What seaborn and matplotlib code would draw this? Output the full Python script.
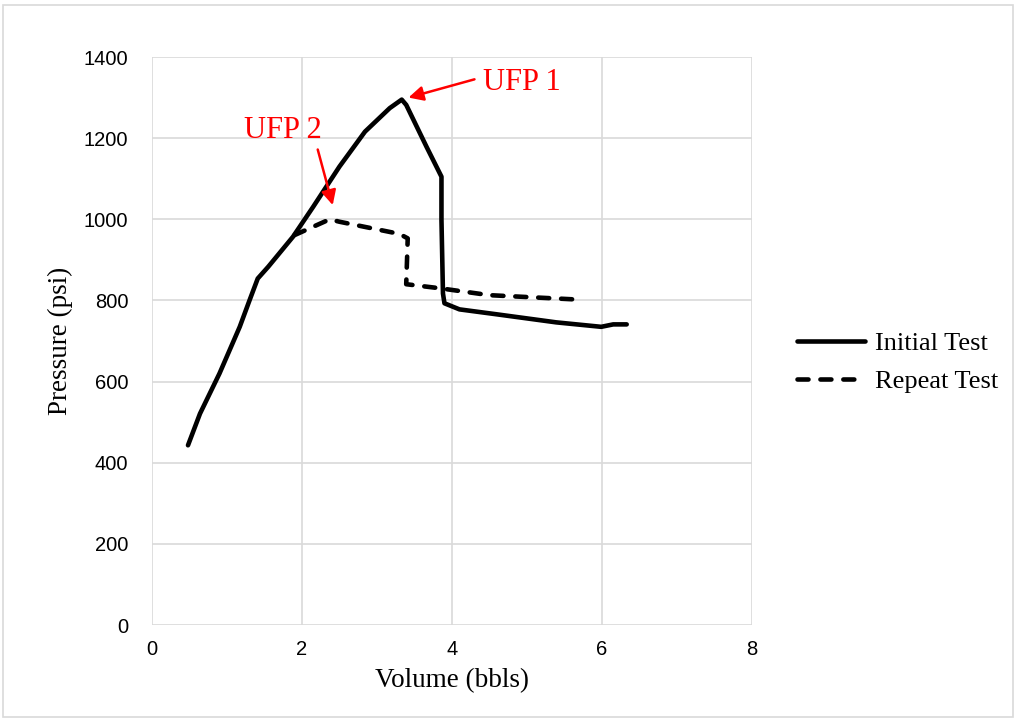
import numpy as np
import pandas as pd
import matplotlib
matplotlib.use("Agg")
import matplotlib.pyplot as plt
import seaborn as sns

# ------------------------------------------------------------
# DATA
# ------------------------------------------------------------

initial_volume = [0.48, 0.64, 0.90, 1.17, 1.30, 1.41, 1.55, 1.88, 2.15, 2.50,
                  2.84, 3.17, 3.33, 3.39, 3.66, 3.86, 3.86, 3.88, 3.90, 4.10,
                  4.59, 5.39, 5.99, 6.15, 6.33]
initial_pressure = [443, 521, 620, 735, 800, 854, 883, 957, 1031, 1130,
                    1216, 1274, 1295, 1282, 1179, 1105, 998, 817, 793, 778,
                    766, 746, 735, 741, 741]

repeat_volume = [1.90, 2.37, 2.50, 3.30, 3.41, 3.39, 3.84, 4.50, 5.70]
repeat_pressure = [961, 1000, 994, 964, 953, 840, 830, 813, 802]

series_names = ["Initial Test", "Repeat Test"]

# annotations: label, text centre, arrow tail, arrow tip
ufp_labels = ["UFP 1", "UFP 2"]
ufp_text_xy = [(4.93, 1336), (1.75, 1218)]
ufp_tail_xy = [(4.3, 1345), (2.21, 1172)]
ufp_head_xy = [(3.42, 1300), (2.41, 1035)]

# ------------------------------------------------------------
# PLOT
# ------------------------------------------------------------

sns.set_style("white")
plt.rcParams["font.family"] = ["Liberation Serif", "DejaVu Serif"]
plt.rcParams["text.color"] = "black"
plt.rcParams["axes.labelcolor"] = "black"
plt.rcParams["xtick.color"] = "black"
plt.rcParams["ytick.color"] = "black"

df = pd.DataFrame({
    "Volume": initial_volume + repeat_volume,
    "Pressure": initial_pressure + repeat_pressure,
    "Test": [series_names[0]] * len(initial_volume)
            + [series_names[1]] * len(repeat_volume),
})

fig = plt.figure(figsize=(10.16, 7.19), dpi=100)
ax = fig.add_axes([0.1496, 0.1307, 0.5905, 0.79])

sns.lineplot(
    data=df,
    x="Volume",
    y="Pressure",
    hue="Test",
    style="Test",
    palette=["black", "black"],
    dashes=[(None, None), (2.4, 2.6)],
    sort=False,
    estimator=None,
    linewidth=3.3,
    ax=ax,
)
for line in ax.get_lines():
    line.set_solid_capstyle("round")
    line.set_dash_capstyle("round")
    line.set_solid_joinstyle("round")

ax.set_xlim(0, 8)
ax.set_ylim(0, 1400)
ax.set_xticks(np.arange(0, 9, 2))
ax.set_yticks(np.arange(0, 1401, 200))
ax.grid(True, color="#d9d9d9", linewidth=1.2)
ax.set_axisbelow(True)
for s in ax.spines.values():
    s.set_visible(False)
ax.tick_params(axis="y", length=0, pad=17, labelsize=14.5, labelcolor="black")
ax.tick_params(axis="x", length=0, pad=11, labelsize=14.5, labelcolor="black")
for lbl in ax.get_xticklabels() + ax.get_yticklabels():
    lbl.set_fontfamily("Liberation Sans")

ax.set_xlabel("Volume (bbls)", fontsize=19.5, labelpad=6, color="black")
ax.set_ylabel("Pressure (psi)", fontsize=19.5, labelpad=8, color="black")

for text, txy, tail, head in zip(ufp_labels, ufp_text_xy, ufp_tail_xy, ufp_head_xy):
    ax.text(txy[0], txy[1], text, color="red", fontsize=22,
            ha="center", va="center")
    ax.annotate("", xy=head, xytext=tail,
                arrowprops=dict(arrowstyle="-|>", color="red", lw=1.8,
                                mutation_scale=22, shrinkA=0, shrinkB=0))

leg = ax.legend(
    loc="center left",
    bbox_to_anchor=(1.0745, 0.463),
    frameon=False,
    fontsize=19,
    borderpad=0,
    borderaxespad=0,
    handlelength=2.6,
    handletextpad=0.38,
    labelspacing=0.55,
)
for h in leg.get_lines():
    h.set_linewidth(3.3)
for t in leg.get_texts():
    t.set_color("black")

# light border round the whole chart
fig.patches.append(plt.Rectangle((0.003, 0.003), 0.994, 0.99,
                                 transform=fig.transFigure, fill=False,
                                 edgecolor="#d9d9d9", linewidth=1.2))

fig.savefig("out.png", dpi=100)
